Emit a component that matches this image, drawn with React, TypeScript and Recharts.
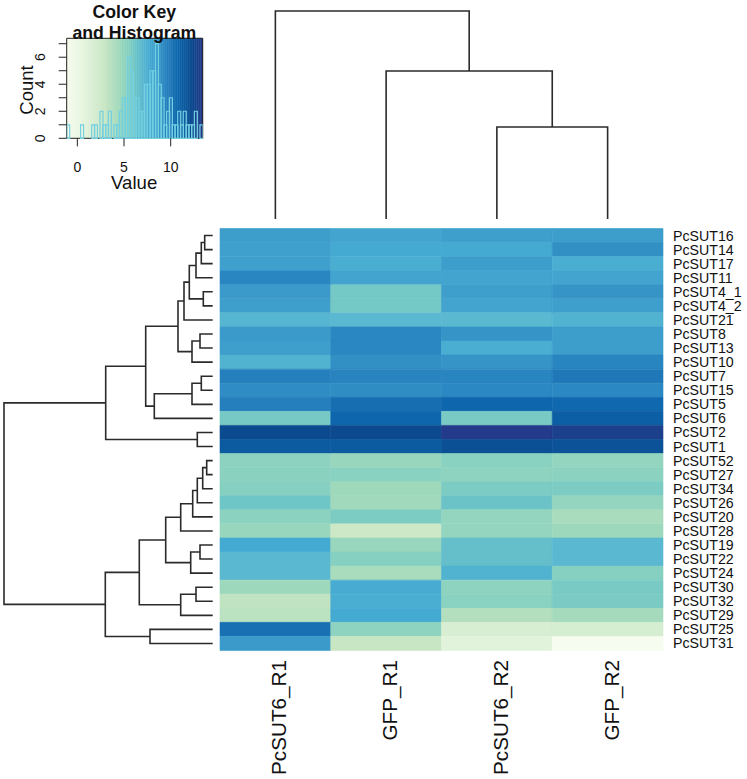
import React from "react"
import {
  BarChart,
  Bar,
  Cell,
  XAxis,
  YAxis,
  LineChart,
  Line,
  ComposedChart,
  ReferenceArea,
} from "recharts"

const FONT = "'Liberation Sans', Arial, Helvetica, sans-serif"

// heatmap rows, in the order they are drawn (top to bottom)
const genes = [
  "PcSUT16", "PcSUT14", "PcSUT17", "PcSUT11", "PcSUT4_1", "PcSUT4_2", "PcSUT21",
  "PcSUT8", "PcSUT13", "PcSUT10", "PcSUT7", "PcSUT15", "PcSUT5", "PcSUT6",
  "PcSUT2", "PcSUT1", "PcSUT52", "PcSUT27", "PcSUT34", "PcSUT26", "PcSUT20",
  "PcSUT28", "PcSUT19", "PcSUT22", "PcSUT24", "PcSUT30", "PcSUT32", "PcSUT29",
  "PcSUT25", "PcSUT31",
]

const samples = ["PcSUT6_R1", "GFP_R1", "PcSUT6_R2", "GFP_R2"]

// expression values per sample (same order as genes)
const sut6R1 = [
  8.5, 8.35, 8.35, 9.4, 8.6, 8.4, 7.15, 8.6, 8.4, 7.3, 9.7, 9.15, 9.7, 6.0, 12.3,
  11.5, 5.25, 5.35, 5.5, 6.2, 5.3, 4.8, 7.8, 7.0, 7.0, 4.6, 3.3, 3.5, 10.3, 8.6,
]
const gfpR1 = [
  8.1, 7.8, 7.6, 8.1, 6.05, 6.05, 7.0, 9.35, 9.35, 9.0, 9.5, 9.1, 10.4, 10.8, 12.4,
  11.5, 4.8, 5.4, 4.55, 4.5, 5.8, 2.7, 4.8, 5.5, 4.2, 7.7, 7.6, 7.8, 5.2, 3.0,
]
const sut6R2 = [
  8.4, 7.8, 8.5, 8.1, 8.4, 8.1, 7.0, 8.85, 7.6, 8.85, 9.45, 9.3, 10.8, 5.9, 13.3,
  12.0, 5.4, 5.2, 5.8, 6.35, 5.0, 5.0, 6.6, 6.6, 7.3, 5.2, 5.4, 3.8, 1.8, 1.0,
]
const gfpR2 = [
  8.5, 9.0, 7.6, 8.1, 8.85, 8.4, 7.3, 8.5, 8.5, 9.45, 10.0, 9.3, 10.7, 11.2, 13.0,
  11.9, 5.0, 5.3, 5.8, 5.0, 4.2, 4.6, 7.0, 7.0, 5.5, 5.9, 5.85, 4.3, 2.0, -1.0,
]

// colour key (value -> colour)
const keyValues = [-1.1, 1.0, 3.0, 4.5, 5.5, 6.2, 7.0, 7.8, 8.5, 9.3, 10.0, 10.8, 11.5, 12.3, 13.4]
const keyColors = [
  "#f7fcf0", "#e2f3db", "#c8e6c4", "#a0d9bb", "#86d0c1", "#6fc6c6", "#5ab8d0", "#45aad2",
  "#3d9dcb", "#2c88c2", "#2078b8", "#0e66ac", "#0c5aa0", "#0b4a8f", "#253a8a",
]
const keyMin = -1.14
const keyMax = 13.43

// histogram of the values, read from the key
const histStart = -1.14
const histWidth = 0.2973
const histCounts = [
  1, 0, 0, 0, 0, 1, 0, 0, 0, 1, 1, 0, 2, 1, 1, 2, 0, 1, 1, 2, 3, 3, 6, 5, 3,
  3, 2, 2, 4, 4, 5, 5, 7, 4, 3, 1, 2, 3, 1, 1, 2, 1, 2, 1, 1, 1, 2, 0, 1,
]

// dendrograms: [left, right, height]; negative = leaf (display position), positive = earlier merge
const rowMerge = [
  [-1, -2, 0.8], [1, -3, 1.14], [2, -4, 1.67], [-5, -6, 0.94], [3, 4, 2.34],
  [5, -7, 2.87], [-8, -9, 1.27], [7, -10, 2.07], [6, 8, 3.47], [-11, -12, 1.14],
  [10, -13, 2.07], [11, -14, 5.84], [9, 12, 6.7], [-15, -16, 1.54], [13, 14, 10.7],
  [-17, -18, 0.6], [16, -19, 1.0], [17, -20, 1.54], [18, -21, 2.0], [19, -22, 3.2],
  [-23, -24, 1.27], [21, -25, 2.2], [20, 22, 4.7], [-26, -27, 1.67], [24, -28, 3.2],
  [23, 25, 7.34], [-29, -30, 6.27], [26, 27, 10.74], [15, 28, 20.87],
]
const colMerge = [[-3, -4, 9.2], [-2, 1, 14.8], [-1, 2, 20.8]]

function colorFor(v: number) {
  if (v <= keyValues[0]) return keyColors[0]
  for (let i = 1; i < keyValues.length; i++) {
    if (v <= keyValues[i]) {
      const t = (v - keyValues[i - 1]) / (keyValues[i] - keyValues[i - 1])
      const a = keyColors[i - 1], b = keyColors[i]
      const ch = (k: number) => {
        const x = parseInt(a.slice(k, k + 2), 16)
        const y = parseInt(b.slice(k, k + 2), 16)
        return Math.round(x + (y - x) * t).toString(16).padStart(2, "0")
      }
      return "#" + ch(1) + ch(3) + ch(5)
    }
  }
  return keyColors[keyColors.length - 1]
}

function dendroSegments(merge: number[][]) {
  const pos: number[] = []
  const hts: number[] = []
  const p = (id: number) => (id < 0 ? -id - 1 : pos[id - 1])
  const h = (id: number) => (id < 0 ? 0 : hts[id - 1])
  return merge.map(([a, b, ht], i) => {
    const pa = p(a), pb = p(b)
    pos[i] = (pa + pb) / 2
    hts[i] = ht
    return [
      { h: h(a), p: pa },
      { h: ht, p: pa },
      { h: ht, p: pb },
      { h: h(b), p: pb },
    ]
  })
}

const rowSegs = dendroSegments(rowMerge)
const colSegs = dendroSegments(colMerge)

const sampleValues = [sut6R1, gfpR1, sut6R2, gfpR2]
const heatRows = genes.map((g) => ({ gene: g, c0: 1, c1: 1, c2: 1, c3: 1 }))

const histData = histCounts.map((c, i) => ({ x: histStart + (i + 0.5) * histWidth, count: c }))

// colour key strip, one step per bin of the key
const keyN = 64
const keySteps = Array.from({ length: keyN }, (_, i) => {
  const w = (keyMax - keyMin) / keyN
  const mid = keyMin + (i + 0.5) * w
  return { x: mid, top: 7.4, fill: colorFor(mid) }
})

const LINE = "#2b2b2b"

const ColTick = (props: any) => {
  const { x, y, payload } = props
  return (
    <text
      transform={`translate(${x + 11}, ${y + 9.5}) rotate(-90)`}
      textAnchor="end"
      fontSize={20.7}
      fontFamily={FONT}
      fill="#111"
    >
      {samples[Math.floor(payload.value)]}
    </text>
  )
}

const RowTick = (props: any) => {
  const { x, y, payload } = props
  return (
    <text x={x} y={y} dy={5} textAnchor="start" fontSize={14.2} fontFamily={FONT} fill="#111">
      {payload.value}
    </text>
  )
}

const KeyXTick = (props: any) => {
  const { x, y, payload } = props
  return (
    <text x={x} y={y + 23.4} textAnchor="middle" fontSize={14} fontFamily={FONT} fill="#111">
      {payload.value}
    </text>
  )
}

const KeyYTick = (props: any) => {
  const { x, y, payload } = props
  if (payload.value % 2 !== 0) return <g />
  return (
    <text
      transform={`translate(${x - 11.7}, ${y}) rotate(-90)`}
      textAnchor="middle"
      fontSize={14}
      fontFamily={FONT}
      fill="#111"
    >
      {payload.value}
    </text>
  )
}

const abs = (left: number, top: number): React.CSSProperties => ({
  position: "absolute",
  left,
  top,
})

export default function App() {
  return (
    <div style={{ position: "absolute", left: 0, top: 0, width: 747, height: 779, background: "#fff" }}>
      {/* colour key strip */}
      <div style={abs(0, 0)}>
        <BarChart
          width={220}
          height={200}
          data={keySteps}
          margin={{ top: 38.3, left: 66.7, right: 17.3, bottom: 61.7 }}
          barCategoryGap={0}
          barGap={0}
        >
          <XAxis type="number" dataKey="x" domain={[keyMin, keyMax]} hide />
          <YAxis type="number" domain={[0, 7.4]} hide />
          <Bar dataKey="top" isAnimationActive={false}>
            {keySteps.map((s, i) => (
              <Cell key={i} fill={s.fill} stroke={s.fill} strokeWidth={0.6} />
            ))}
          </Bar>
        </BarChart>
      </div>

      {/* histogram + axes */}
      <div style={abs(0, 0)}>
        <ComposedChart
          width={220}
          height={200}
          data={histData}
          margin={{ top: 38.3, left: 0, right: 17.3, bottom: 0 }}
          barCategoryGap={0}
          barGap={0}
        >
          <XAxis
            type="number"
            dataKey="x"
            domain={[keyMin, keyMax]}
            ticks={[0, 5, 10]}
            height={61.7}
            axisLine={false}
            tickSize={8}
            tickLine={{ stroke: "#222" }}
            tick={KeyXTick}
            allowDataOverflow
          />
          <YAxis
            type="number"
            domain={[0, 7.4]}
            ticks={[0, 1, 2, 3, 4, 5, 6, 7]}
            interval={0}
            width={66.7}
            tickSize={8}
            axisLine={false}
            tickLine={{ stroke: "#222" }}
            tick={KeyYTick}
          />
          <Bar dataKey="count" fill="none" stroke="#72d0e2" strokeWidth={1.2} isAnimationActive={false} />
          <ReferenceArea x1={keyMin} x2={keyMax} y1={0} y2={7.4} fill="none" stroke="#222" strokeWidth={1} />
        </ComposedChart>
      </div>

      <svg width={220} height={200} style={abs(0, 0)}>
        <text x={134.3} y={17.7} textAnchor="middle" fontSize={17.7} fontWeight="bold" fontFamily={FONT} fill="#111">
          Color Key
        </text>
        <text x={134.3} y={39.4} textAnchor="middle" fontSize={17.7} fontWeight="bold" fontFamily={FONT} fill="#111">
          and Histogram
        </text>
        <text transform="translate(33, 90) rotate(-90)" textAnchor="middle" fontSize={18.5} fontFamily={FONT} fill="#111">
          Count
        </text>
        <text x={134.2} y={189} textAnchor="middle" fontSize={18.6} fontFamily={FONT} fill="#111">
          Value
        </text>
      </svg>

      {/* column dendrogram */}
      <div style={abs(0, 0)}>
        <LineChart width={747} height={228} margin={{ top: 11, left: 220, right: 84, bottom: 9 }}>
          <XAxis type="number" dataKey="p" domain={[-0.5, 3.5]} hide />
          <YAxis type="number" domain={[0, 20.8]} hide />
          {colSegs.map((seg, i) => (
            <Line
              key={i}
              data={seg}
              dataKey="h"
              type="linear"
              stroke={LINE}
              strokeWidth={1.6}
              dot={false}
              isAnimationActive={false}
            />
          ))}
        </LineChart>
      </div>

      {/* row dendrogram */}
      <div style={abs(0, 0)}>
        <LineChart width={220} height={779} margin={{ top: 228.5, left: 4, right: 7.3, bottom: 128.5 }}>
          <XAxis type="number" dataKey="h" domain={[0, 20.87]} reversed hide />
          <YAxis type="number" domain={[-0.5, 29.5]} reversed hide />
          {rowSegs.map((seg, i) => (
            <Line
              key={i}
              data={seg}
              dataKey="p"
              type="linear"
              stroke={LINE}
              strokeWidth={1.6}
              dot={false}
              isAnimationActive={false}
            />
          ))}
        </LineChart>
      </div>

      {/* heatmap */}
      <div style={abs(0, 0)}>
        <BarChart
          layout="vertical"
          width={747}
          height={779}
          data={heatRows}
          margin={{ top: 228.5, left: 220, right: 0, bottom: 0 }}
          barCategoryGap={0}
          barGap={0}
        >
          <XAxis
            type="number"
            domain={[0, 4]}
            ticks={[0.5, 1.5, 2.5, 3.5]}
            interval={0}
            height={128.5}
            axisLine={false}
            tickLine={false}
            tickSize={0}
            tickMargin={0}
            tick={ColTick}
          />
          <YAxis
            type="category"
            dataKey="gene"
            orientation="right"
            width={84}
            interval={0}
            axisLine={false}
            tickLine={false}
            tickSize={0}
            tickMargin={10}
            tick={RowTick}
          />
          {sampleValues.map((vals, j) => (
            <Bar key={j} dataKey={`c${j}`} stackId="s" isAnimationActive={false}>
              {vals.map((v, i) => (
                <Cell key={i} fill={colorFor(v)} stroke={colorFor(v)} strokeWidth={0.6} />
              ))}
            </Bar>
          ))}
        </BarChart>
      </div>
    </div>
  )
}
